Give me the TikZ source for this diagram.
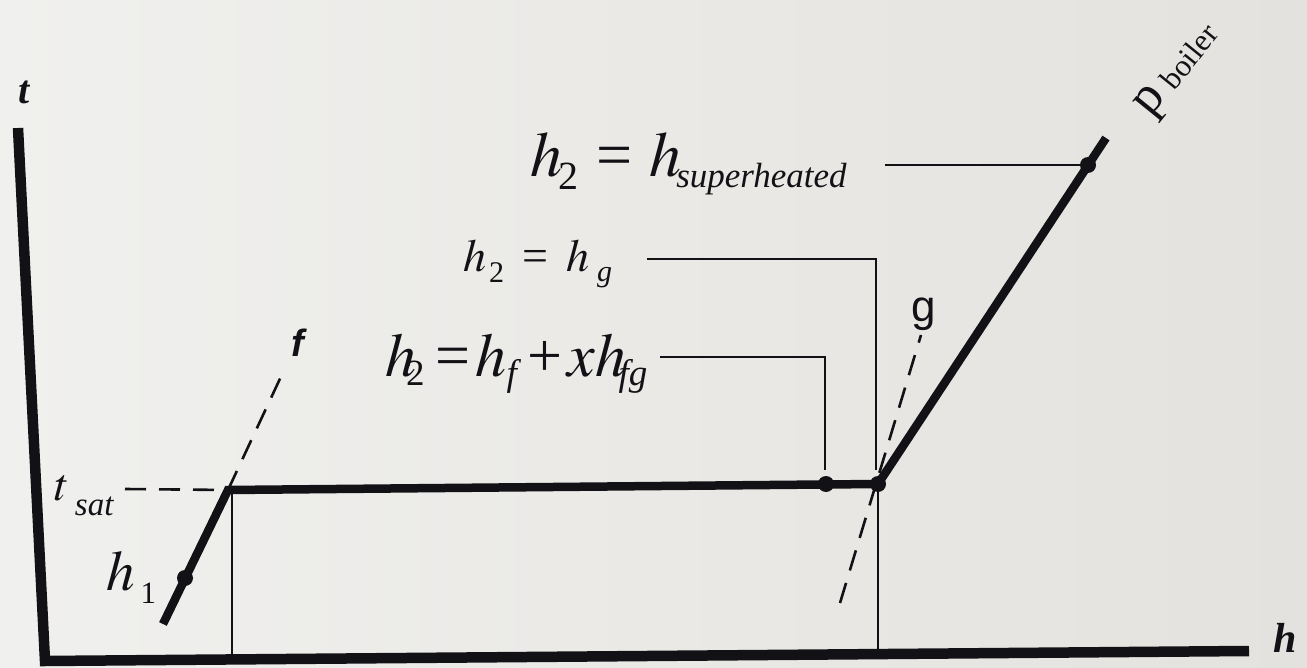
\documentclass[tikz,border=0pt]{standalone}
\usepackage{mathptmx}
\usepackage{fontspec}
\setmainfont{Liberation Serif}
\setsansfont{Liberation Sans}
\definecolor{ink}{RGB}{18,18,22}
\definecolor{paperL}{RGB}{240,240,238}
\definecolor{paperR}{RGB}{228,226,222}
\newcommand{\fsz}[1]{\fontsize{#1}{#1}\selectfont}
\newcommand{\lowsub}[3]{\raisebox{-#1}{\fsz{#2}\itshape #3}}
\newcommand{\bigpc}[2]{{\fsz{#1}#2}}
\newcommand{\mlet}[2]{{\fsz{#1}$#2$}}
\begin{document}
\begin{tikzpicture}[x=1pt,y=-1pt,
  axisline/.style={line width=10.5pt,draw=ink,line join=miter},
  procline/.style={line width=8.5pt,draw=ink,line join=miter},
  leadline/.style={line width=2.7pt,draw=ink},
  dashline/.style={line width=2.6pt,draw=ink,dash pattern=on 21pt off 13pt},
  dotmark/.style={circle,fill=ink,inner sep=0pt,minimum size=16pt},
  lbl/.style={inner sep=0pt,text=ink,anchor=base west}]
\shade[left color=paperL,right color=paperR] (0,0) rectangle (1307,668);
\useasboundingbox (0,0) rectangle (1307,668);
% axes
\coordinate (Ttop) at (18,128);
\coordinate (O) at (45,661);
\coordinate (Hend) at (1249,651);
\draw[axisline] (Ttop) -- (O) -- (Hend);
\node[lbl] (tlab) at (18,104) {\fsz{40}\textbf{\textit{t}}};
\node[lbl] (hlab) at (1273,652) {\fsz{42}\textbf{\textit{h}}};
% process points
\coordinate (A) at (163,624);
\coordinate (B) at (228,490);
\coordinate (C) at (878,484);
\coordinate (D) at (1106,138);
\coordinate (Bbot) at (232,656);
\coordinate (Cbot) at (878,652);
% dashed lines
\coordinate (Ftop) at (285,368);
\coordinate (Tsl) at (125,489);
\coordinate (Gtop) at (921,335);
\coordinate (Gbot) at (840,603);
\draw[dashline] (B) -- (Ftop);
\draw[dashline] (Tsl) -- (B);
\draw[dashline] (Gbot) -- (Gtop);
% thin verticals
\draw[leadline] (232,492) -- (Bbot);
\draw[leadline] (C) -- (Cbot);
% process line
\draw[procline] (A) -- (B) -- (C) -- (D);
% dots
\node[dotmark] (p1) at (185,578) {};
\node[dotmark] (p2) at (826,484) {};
\node[dotmark] (p3) at (878,484) {};
\node[dotmark] (p4) at (1088,165) {};
% leaders
\coordinate (L1) at (885,165);
\draw[leadline] (L1) -- (p4.center);
\coordinate (L2a) at (647,259);
\coordinate (L2b) at (876,259);
\coordinate (L2c) at (876,470);
\draw[leadline] (L2a) -- (L2b) -- (L2c);
\coordinate (L3a) at (660,357);
\coordinate (L3b) at (825,357);
\coordinate (L3c) at (825,470);
\draw[leadline] (L3a) -- (L3b) -- (L3c);
% labels
\node[lbl] (fl) at (291,356) {\fsz{38}\sffamily\bfseries\itshape f};
\node[lbl] (gl) at (911,322) {\fsz{44}\sffamily g};
\node[lbl] (tsat) at (54,500) {\mlet{46}{t}\hspace{6pt}\lowsub{15pt}{33}{sat}};
\node[lbl] (h1l) at (106,590) {\mlet{57}{h}\hspace{6pt}\lowsub{13pt}{31}{\upshape 1}};
\node[lbl] (eqsh) at (530,177) {\mlet{64}{h}\hspace{-4pt}\lowsub{13pt}{40}{\upshape 2}\hspace{18pt}\bigpc{64}{=}\hspace{17pt}\mlet{64}{h}\hspace{-5pt}\lowsub{11pt}{35}{superheated}};
\node[lbl] (eqg) at (463,272) {\mlet{46}{h}\hspace{3pt}\lowsub{11pt}{30}{\upshape 2}\hspace{18pt}\bigpc{46}{=}\hspace{18pt}\mlet{46}{h}\hspace{8pt}\lowsub{10pt}{30}{g}};
\node[lbl] (eqf) at (385,377) {\mlet{62}{h}\hspace{-10pt}\lowsub{9pt}{37}{\upshape 2}\hspace{11pt}\bigpc{62}{=}\hspace{5pt}\mlet{62}{h}\lowsub{9pt}{37}{f}\hspace{11pt}\bigpc{62}{+}\hspace{5pt}\mlet{62}{x}\mlet{62}{h}\hspace{-8pt}\lowsub{9pt}{37}{fg}};
\node[lbl,rotate=51] (pb) at (1150,118) {\bigpc{52}{p}\hspace{10pt}\raisebox{-2pt}{\fsz{31}boiler}};
\end{tikzpicture}
\end{document}
